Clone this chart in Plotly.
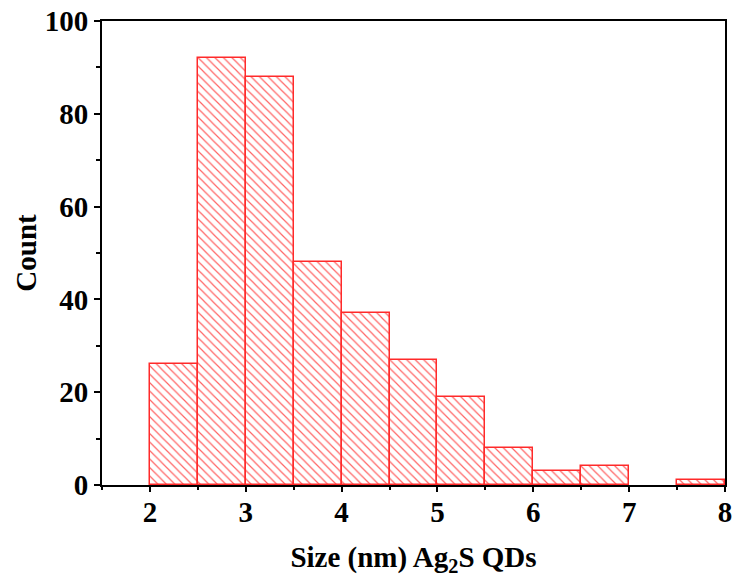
import plotly.graph_objects as go

bin_left = [2.0, 2.5, 3.0, 3.5, 4.0, 4.5, 5.0, 5.5, 6.0, 6.5, 7.0, 7.5]
counts = [26, 92, 88, 48, 37, 27, 19, 8, 3, 4, 0, 1]
bin_width = 0.5
x_ticks = [2, 3, 4, 5, 6, 7, 8]
y_ticks = [0, 20, 40, 60, 80, 100]

# empty bins are not drawn (no outline along the axis)
xs = [b + bin_width / 2 for b, c in zip(bin_left, counts) if c > 0]
ys = [c for c in counts if c > 0]

fig = go.Figure()
fig.add_trace(go.Bar(
    x=xs, y=ys, width=[bin_width] * len(ys),
    marker=dict(
        color="rgba(255,255,255,0)",
        line=dict(color="#ff2a2a", width=1.5),
        pattern=dict(shape="\\", fgcolor="#ff3030", fgopacity=0.75,
                     bgcolor="rgba(255,255,255,0)", size=6, solidity=0.2),
    ),
    showlegend=False,
))
# invisible helper trace on the tick-only x axis
fig.add_trace(go.Scatter(x=[xs[0]], y=[0], xaxis="x2", mode="markers",
                         marker=dict(opacity=0), showlegend=False, hoverinfo="skip"))

font = "Liberation Serif"
tickfont = dict(family=font, size=29, color="black", weight="bold")

fig.update_layout(
    width=733, height=581,
    margin=dict(l=102, r=8, t=21, b=96),
    plot_bgcolor="white", paper_bgcolor="white",
    bargap=0,
    xaxis=dict(range=[1.5, 8], tickvals=x_ticks, ticks="",
               showline=True, linecolor="black", linewidth=1.8, mirror=True,
               showgrid=False, zeroline=False, automargin=False, layer="above traces",
               tickfont=tickfont,
               title=dict(text="<b>Size (nm) Ag<sub>2</sub>S QDs</b>",
                          font=dict(family=font, size=29, color="black"), standoff=20)),
    xaxis2=dict(range=[1.5, 8], overlaying="x", side="bottom", anchor="y",
                tickvals=x_ticks, showticklabels=False,
                ticks="outside", ticklen=6, tickwidth=1.5, tickcolor="black",
                minor=dict(dtick=0.5, ticklen=4, tickwidth=1.5, tickcolor="black", ticks="outside"),
                showline=False, showgrid=False, zeroline=False, automargin=False),
    yaxis=dict(range=[0, 100], tickvals=y_ticks,
               showline=True, linecolor="black", linewidth=1.8, mirror=True,
               ticks="outside", ticklen=6, tickwidth=1.5, tickcolor="black",
               minor=dict(dtick=10, ticklen=4, tickwidth=1.5, tickcolor="black", ticks="outside"),
               showgrid=False, zeroline=False, automargin=False, layer="above traces",
               tickfont=tickfont,
               title=dict(text="<b>Count</b>",
                          font=dict(family=font, size=29, color="black"), standoff=0)),
)

fig.write_html("out.html")
